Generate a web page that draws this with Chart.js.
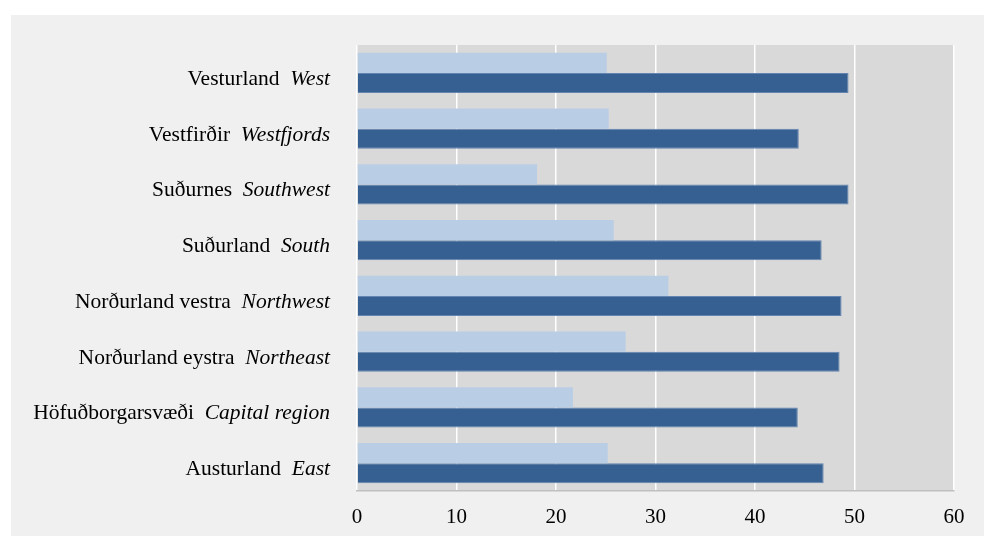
<!DOCTYPE html>
<html>
<head>
<meta charset="utf-8">
<script src="https://cdn.jsdelivr.net/npm/chart.js@4"></script>
<style>
    html, body { margin: 0; padding: 0; background: #ffffff; }
    #wrap { position: absolute; left: 11px; top: 15px; width: 973px; height: 521px; background: #f0f0f0; }
</style>
</head>
<body>
<div id="wrap"><canvas id="regionChart" width="973" height="521"></canvas></div>
<script>
const regionNames = ['Vesturland', 'Vestfirðir', 'Suðurnes', 'Suðurland', 'Norðurland vestra', 'Norðurland eystra', 'Höfuðborgarsvæði', 'Austurland'];
const regionNamesEn = ['West', 'Westfjords', 'Southwest', 'South', 'Northwest', 'Northeast', 'Capital region', 'East'];
const seriesLight = [25.1, 25.3, 18.1, 25.8, 31.3, 27.0, 21.7, 25.2];
const seriesDark = [49.4, 44.4, 49.4, 46.7, 48.7, 48.5, 44.3, 46.9];
const xTicks = [0, 10, 20, 30, 40, 50, 60];

const labelFont = '21.5px "Liberation Serif", "Times New Roman", serif';
const labelFontItalic = 'italic 21.5px "Liberation Serif", "Times New Roman", serif';

// grey plot area behind the bars
const plotBackground = {
    id: 'plotBackground',
    beforeDraw(chart) {
        const { ctx, chartArea: a } = chart;
        ctx.save();
        ctx.fillStyle = '#d9d9d9';
        ctx.fillRect(a.left, a.top, a.right - a.left, a.bottom - a.top);
        ctx.restore();
    }
};

// category labels: Icelandic name upright, English name in italics
const mixedLabels = {
    id: 'mixedLabels',
    afterDraw(chart) {
        const { ctx } = chart;
        const y = chart.scales.y;
        const right = chart.chartArea.left - 27;
        ctx.save();
        ctx.fillStyle = '#000000';
        ctx.textBaseline = 'alphabetic';
        ctx.textAlign = 'left';
        regionNames.forEach((name, i) => {
            const py = y.getPixelForTick(i) + 12;
            ctx.font = labelFontItalic;
            const en = regionNamesEn[i];
            const wEn = ctx.measureText(en).width;
            ctx.font = labelFont;
            const gap = ctx.measureText('  ').width;
            const wName = ctx.measureText(name).width;
            ctx.fillText(name, right - wEn - gap - wName, py);
            ctx.font = labelFontItalic;
            ctx.fillText(en, right - wEn, py);
        });
        ctx.restore();
    }
};

new Chart(document.getElementById('regionChart'), {
    type: 'bar',
    data: {
        labels: regionNames.map((n, i) => n + '  ' + regionNamesEn[i]),
        datasets: [
            {
                data: seriesLight,
                backgroundColor: '#b9cde5',
                borderWidth: 0,
                categoryPercentage: 0.72,
                barPercentage: 1
            },
            {
                data: seriesDark,
                backgroundColor: '#366092',
                borderColor: '#6384b0',
                borderWidth: 1,
                categoryPercentage: 0.72,
                barPercentage: 1
            }
        ]
    },
    options: {
        indexAxis: 'y',
        responsive: false,
        animation: false,
        layout: { padding: { top: 30, right: 30, left: 0, bottom: 0 } },
        plugins: { legend: { display: false }, tooltip: { enabled: false } },
        scales: {
            x: {
                min: 0,
                max: 60,
                afterBuildTicks: (s) => { s.ticks = xTicks.map((v) => ({ value: v })); },
                afterFit: (s) => { s.height = 45; },
                grid: { color: '#ffffff', lineWidth: 1.5, drawTicks: false },
                border: { color: '#bfbfbf', width: 1.5 },
                ticks: {
                    padding: 14,
                    color: '#000000',
                    font: { family: '"Liberation Serif", "Times New Roman", serif', size: 21 }
                }
            },
            y: {
                afterFit: (s) => { s.width = 346; },
                grid: { display: false },
                border: { display: false },
                ticks: { display: false }
            }
        }
    },
    plugins: [plotBackground, mixedLabels]
});
</script>
</body>
</html>
